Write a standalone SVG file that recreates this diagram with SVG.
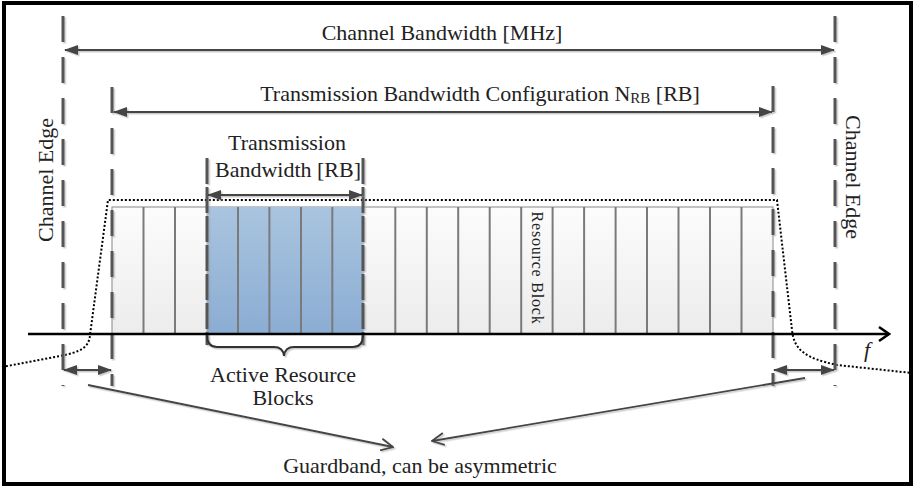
<svg xmlns="http://www.w3.org/2000/svg" width="914" height="488" viewBox="0 0 914 488">
<style>
  text { font-family: "Liberation Serif", "Times New Roman", serif; fill: #222; }
  .lbl { font-size: 22px; }
  .edge { fill: none; stroke: #555; stroke-width: 3; stroke-dasharray: 26 15; }
  .dim { fill: none; stroke: #444; stroke-width: 2.2; marker-start: url(#ah); marker-end: url(#ah); }
  .ptr { fill: none; stroke: #444; stroke-width: 1.8; marker-end: url(#oh); }
  .sep { stroke: #7a7a7a; stroke-width: 2; }
  .sh { filter: url(#shadow); }
</style>
<defs>
  <filter id="shadow" x="-5%" y="-5%" width="110%" height="110%">
    <feDropShadow dx="1.5" dy="1.5" stdDeviation="0.7" flood-color="#999" flood-opacity="0.5"/>
  </filter>
  <marker id="ah" viewBox="0 0 14 10" refX="13" refY="5" markerWidth="14" markerHeight="10" markerUnits="userSpaceOnUse" orient="auto-start-reverse">
    <path d="M0,0 L14,5 L0,10 z" fill="#444"/>
  </marker>
  <marker id="oh" viewBox="0 0 14 14" refX="13" refY="7" markerWidth="14" markerHeight="14" markerUnits="userSpaceOnUse" orient="auto">
    <path d="M1,1 L13,7 L1,13" fill="none" stroke="#444" stroke-width="1.8"/>
  </marker>
  <marker id="ax" viewBox="0 0 14 18" refX="12" refY="9" markerWidth="14" markerHeight="18" markerUnits="userSpaceOnUse" orient="auto">
    <path d="M2,2 L12,9 L2,16" fill="none" stroke="#000" stroke-width="2.5"/>
  </marker>
  <linearGradient id="gGray" x1="0" y1="0" x2="0" y2="1">
    <stop offset="0" stop-color="#fcfcfc"/>
    <stop offset="1" stop-color="#ececec"/>
  </linearGradient>
  <linearGradient id="gBlue" x1="0" y1="0" x2="0" y2="1">
    <stop offset="0" stop-color="#a9c4df"/>
    <stop offset="1" stop-color="#8badd3"/>
  </linearGradient>
</defs>

<rect x="4" y="3" width="907" height="481" fill="#fff" stroke="#000" stroke-width="4"/>

<g id="resource-blocks">
  <rect x="112" y="207" width="661" height="127" fill="url(#gGray)" stroke="#888" stroke-width="1"/>
  <rect x="206.4" y="207" width="157.4" height="127" fill="url(#gBlue)"/>
  <g class="sep">
    <line x1="143.5" y1="207" x2="143.5" y2="334"/>
    <line x1="175" y1="207" x2="175" y2="334"/>
    <line x1="238" y1="207" x2="238" y2="334"/>
    <line x1="269.4" y1="207" x2="269.4" y2="334"/>
    <line x1="301" y1="207" x2="301" y2="334"/>
    <line x1="332.3" y1="207" x2="332.3" y2="334"/>
    <line x1="395.3" y1="207" x2="395.3" y2="334"/>
    <line x1="426.8" y1="207" x2="426.8" y2="334"/>
    <line x1="458.2" y1="207" x2="458.2" y2="334"/>
    <line x1="489.7" y1="207" x2="489.7" y2="334"/>
    <line x1="521.2" y1="207" x2="521.2" y2="334"/>
    <line x1="552.6" y1="207" x2="552.6" y2="334"/>
    <line x1="584.1" y1="207" x2="584.1" y2="334"/>
    <line x1="615.6" y1="207" x2="615.6" y2="334"/>
    <line x1="647" y1="207" x2="647" y2="334"/>
    <line x1="678.5" y1="207" x2="678.5" y2="334"/>
    <line x1="710" y1="207" x2="710" y2="334"/>
    <line x1="741.5" y1="207" x2="741.5" y2="334"/>
  </g>
  <text x="0" y="0" font-size="16" letter-spacing="0.8" text-anchor="middle" transform="translate(532,268) rotate(90)">Resource Block</text>
</g>

<g id="spectrum-mask">
  <path d="M2 367 L60 356 C80 352 89 348 90 335 L108 200 L777 200 L792 330 C794 350 805 358 837 365 L912 373" fill="none" stroke="#000" stroke-width="2" stroke-dasharray="2 2"/>
</g>

<g id="edges" class="sh">
  <line class="edge" x1="63" y1="16" x2="63" y2="386"/>
  <line class="edge" x1="835" y1="16" x2="835" y2="386"/>
  <line class="edge" x1="112" y1="87" x2="112" y2="386"/>
  <line class="edge" x1="773" y1="86" x2="773" y2="386"/>
  <line class="edge" x1="207" y1="158" x2="207" y2="345" style="stroke-dasharray:26 3"/>
  <line class="edge" x1="363" y1="158" x2="363" y2="345" style="stroke-dasharray:26 3"/>
</g>

<g id="axis">
  <line x1="28" y1="334" x2="889" y2="334" stroke="#000" stroke-width="2.5" marker-end="url(#ax)"/>
  <text x="864" y="357" font-size="22" font-style="italic">f</text>
</g>

<g id="connectors" class="sh">
  <line class="dim" x1="65" y1="50" x2="834" y2="50"/>
  <line class="dim" x1="114" y1="112" x2="772" y2="112"/>
  <line class="dim" x1="208" y1="195" x2="362" y2="195"/>
  <line class="dim" x1="64" y1="370" x2="111" y2="370"/>
  <line class="dim" x1="774" y1="370" x2="834" y2="370"/>
  <path d="M207 335 Q207 347 217 347 L274 347 Q283 347 284 356 Q285 347 294 347 L353 347 Q363 347 363 335" fill="none" stroke="#333" stroke-width="2"/>
  <line class="ptr" x1="88" y1="385" x2="393" y2="447"/>
  <line class="ptr" x1="805" y1="378" x2="432" y2="441"/>
</g>

<g id="labels">
  <text class="lbl" x="442" y="40" text-anchor="middle">Channel Bandwidth [MHz]</text>
  <text class="lbl" x="480" y="101" text-anchor="middle">Transmission Bandwidth Configuration N<tspan font-size="15" dy="2">RB</tspan><tspan dy="-2"> [RB]</tspan></text>
  <text class="lbl" x="287" y="150" text-anchor="middle">Transmission</text>
  <text class="lbl" x="288" y="177" text-anchor="middle">Bandwidth [RB]</text>
  <text class="lbl" x="283" y="382" text-anchor="middle">Active Resource</text>
  <text class="lbl" x="283" y="405" text-anchor="middle">Blocks</text>
  <text class="lbl" x="420" y="473" text-anchor="middle">Guardband, can be asymmetric</text>
  <text class="lbl" x="0" y="0" text-anchor="middle" transform="translate(53,180) rotate(-90)">Channel Edge</text>
  <text class="lbl" x="0" y="0" text-anchor="middle" transform="translate(846,177) rotate(90)">Channel Edge</text>
</g>
</svg>
